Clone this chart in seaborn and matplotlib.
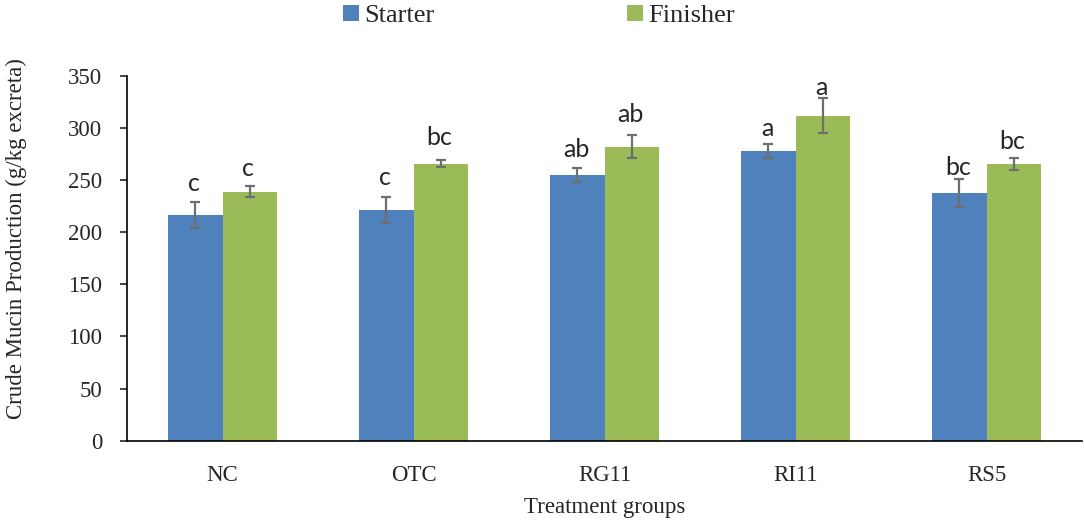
import pandas as pd
import numpy as np
import matplotlib
matplotlib.use("Agg")
import matplotlib.pyplot as plt
import seaborn as sns

# data
groups = ["NC", "OTC", "RG11", "RI11", "RS5"]
starter = [217, 221, 255, 278, 238]
finisher = [239, 266, 282, 312, 265.5]
starter_err = [12.5, 12.5, 7, 7, 13.5]
finisher_err = [5, 3.5, 11, 17, 6]
starter_letters = ["c", "c", "ab", "a", "bc"]
finisher_letters = ["c", "bc", "ab", "a", "bc"]

phases = ["Starter", "Finisher"]
colours = {"Starter": "#4F81BD", "Finisher": "#9BBB59"}

# gap (px) between error bar cap and letter baseline, placed by hand in the original
gap_starter = [11, 12, 11, 8, 4]
gap_finisher = [10, 15, 13, 3, 9]

df = pd.DataFrame({
    "group": groups * 2,
    "phase": ["Starter"] * len(groups) + ["Finisher"] * len(groups),
    "value": starter + finisher,
})

sns.set_style("white")
plt.rcParams["font.family"] = ["Liberation Serif", "DejaVu Serif"]

fig = plt.figure(figsize=(10.84, 5.24), dpi=100)
ax = fig.add_axes([0.1172, 0.159, 0.881, 0.696])

sns.barplot(data=df, x="group", y="value", hue="phase", order=groups,
            hue_order=phases, palette=colours, width=0.57, errorbar=None,
            saturation=1, linewidth=0, ax=ax)

errs = {"Starter": starter_err, "Finisher": finisher_err}
letters = {"Starter": starter_letters, "Finisher": finisher_letters}
vals = {"Starter": starter, "Finisher": finisher}
gaps = {"Starter": gap_starter, "Finisher": gap_finisher}
for cont, ph in zip(ax.containers, phases):
    xs = [p.get_x() + p.get_width() / 2 for p in cont.patches]
    ax.errorbar(xs, vals[ph], yerr=errs[ph], fmt="none", ecolor="#6e6e6e",
                elinewidth=1.6, capsize=3.6, capthick=1.6, zorder=5)
    for x, v, e, lab, g in zip(xs, vals[ph], errs[ph], letters[ph], gaps[ph]):
        ax.annotate(lab, (x, v + e), xytext=(-1, g * 0.72),
                    textcoords="offset points", ha="center", va="baseline",
                    fontsize=18, family=["Lato", "DejaVu Sans"])

ax.set_ylim(0, 350)
ax.set_xlim(-0.5, len(groups) - 0.5)
ax.set_yticks(np.arange(0, 351, 50))
ax.tick_params(axis="y", which="both", left=True, length=5, width=1.2,
               direction="out", labelsize=16.5, pad=13)
ax.tick_params(axis="x", bottom=False, labelsize=16.5, pad=14)
for s in ["top", "right"]:
    ax.spines[s].set_visible(False)
for s in ["left", "bottom"]:
    ax.spines[s].set_color("black")
    ax.spines[s].set_linewidth(1.2)

ax.set_xlabel("Treatment groups", fontsize=16.5, labelpad=8)
ax.set_ylabel("Crude Mucin Production (g/kg excreta)", fontsize=16.5)
ax.yaxis.set_label_coords(-0.105, 0.555)

ax.legend(loc="center left", bbox_to_anchor=(343 / 1084, 1 - 16 / 524),
          bbox_transform=fig.transFigure, ncol=2, frameon=False, fontsize=19,
          handlelength=0.6, handleheight=0.6, handletextpad=0.2,
          columnspacing=7.3, borderpad=0, borderaxespad=0)

fig.savefig("out.png", dpi=100)
